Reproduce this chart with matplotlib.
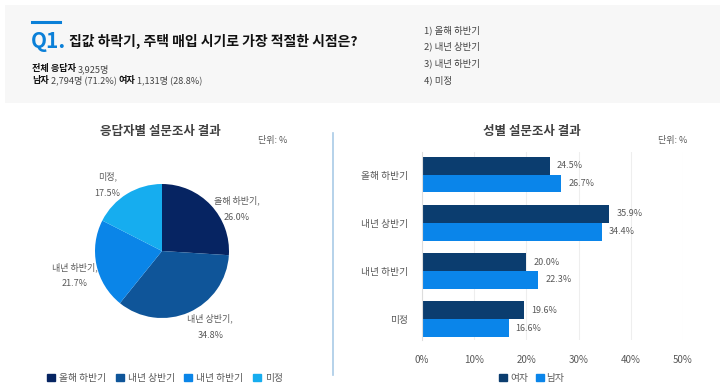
import matplotlib
matplotlib.use('Agg')
import matplotlib.pyplot as plt
from matplotlib.patches import Rectangle, Patch
from matplotlib.lines import Line2D

plt.rcParams['font.family'] = ['Noto Sans CJK KR', 'DejaVu Sans']

# 데이터
choices = ['올해 하반기', '내년 상반기', '내년 하반기', '미정']
total_share = [26.0, 34.8, 21.7, 17.5]
female_share = [24.5, 35.9, 20.0, 19.6]
male_share = [26.7, 34.4, 22.3, 16.6]
x_ticks = [0, 10, 20, 30, 40, 50]

pie_colors = ['#062462', '#0f5599', '#0a85e8', '#16adef']
female_color = '#0b3d6f'
male_color = '#0a85ea'
gray = '#595959'

W, H = 720, 392
fig = plt.figure(figsize=(7.2, 3.92), dpi=100)


def fx(x):
    return x / W


def fy(y):
    return 1 - y / H


def chain(x, y, parts, size):
    # 굵은 글씨/보통 글씨를 이어서 쓰기
    renderer = fig.canvas.get_renderer()
    for txt, bold, color in parts:
        t = fig.text(fx(x), fy(y), txt, fontsize=size, va='center', ha='left',
                     fontweight='bold' if bold else 'normal', color=color)
        bb = t.get_window_extent(renderer)
        x += bb.width + 2


# 상단 회색 패널
fig.patches.append(Rectangle((fx(5), fy(103)), fx(715), 98 / H, transform=fig.transFigure,
                             facecolor='#f7f7f7', edgecolor='none', zorder=0))
fig.lines.append(Line2D([fx(32), fx(60)], [fy(21.5), fy(21.5)], transform=fig.transFigure,
                        color='#0b80d8', linewidth=2.2))
fig.text(fx(31), fy(42), 'Q1.', fontsize=15, fontweight='bold', color='#0b80d8',
         va='center', ha='left')
fig.text(fx(69), fy(41), '집값 하락기, 주택 매입 시기로 가장 적절한 시점은?', fontsize=10,
         fontweight='bold', color='#111111', va='center', ha='left')
chain(32, 69, [('전체 응답자', True, '#111111'), ('3,925명', False, '#444444')], 6.6)
chain(32, 80, [('남자', True, '#111111'), ('2,794명 (71.2%)', False, '#444444'),
               ('여자', True, '#111111'), ('1,131명 (28.8%)', False, '#444444')], 6.6)
for i, c in enumerate(choices):
    fig.text(fx(424), fy(30 + i * 16.7), f'{i + 1}) {c}', fontsize=6.8, color='#444444',
             va='center', ha='left')

# 구분선
fig.lines.append(Line2D([fx(333), fx(333)], [fy(133), fy(375)], transform=fig.transFigure,
                        color='#a9cbe6', linewidth=1.2))

# 파이 차트
r = 67
ax1 = fig.add_axes([fx(162 - r), fy(251 + r), 2 * r / W, 2 * r / H])
wedges, _ = ax1.pie(total_share, colors=pie_colors, startangle=90, counterclock=False,
                    radius=1, wedgeprops=dict(linewidth=0))
ax1.set_xlim(-1, 1)
ax1.set_ylim(-1, 1)
ax1.set_aspect('equal')
label_pos = [(1.12, 0.63), (0.72, -1.13), (-1.30, -0.36), (-0.81, 0.99)]
for (lx, ly), c, v in zip(label_pos, choices, total_share):
    ax1.text(lx, ly, f'{c},\n{v:.1f}%', fontsize=6.5, color=gray, ha='center', va='center',
             linespacing=2.0, clip_on=False)
fig.text(fx(160), fy(131), '응답자별 설문조사 결과', fontsize=9, fontweight='bold',
         color='#404040', ha='center', va='center')
fig.text(fx(287), fy(141), '단위: %', fontsize=6.5, color=gray, ha='right', va='center')
fig.legend(handles=[Patch(color=col, label=c) for col, c in zip(pie_colors, choices)],
           loc='center', bbox_to_anchor=(fx(165), fy(378)), ncol=4, frameon=False,
           fontsize=7, labelcolor=gray, handlelength=0.8, handleheight=0.8,
           handletextpad=0.4, columnspacing=1.0)

# 막대 차트
ax2 = fig.add_axes([fx(422), fy(340), (683 - 422) / W, (340 - 152) / H])
bh = 0.37
ypos = list(range(len(choices)))
ax2.barh([y - bh / 2 for y in ypos], female_share, height=bh, color=female_color, label='여자')
ax2.barh([y + bh / 2 for y in ypos], male_share, height=bh, color=male_color, label='남자')
for y, f, m in zip(ypos, female_share, male_share):
    ax2.text(f + 1.3, y - bh / 2, f'{f:.1f}%', fontsize=6.5, color=gray, va='center')
    ax2.text(m + 1.3, y + bh / 2, f'{m:.1f}%', fontsize=6.5, color=gray, va='center')
ax2.set_xlim(0, 50)
ax2.set_ylim(3.43, -0.47)
ax2.set_xticks(x_ticks)
ax2.set_xticklabels([f'{t}%' for t in x_ticks], fontsize=7, color=gray)
ax2.set_yticks(ypos)
ax2.set_yticklabels(choices, fontsize=7, color=gray)
ax2.tick_params(length=0, pad=10)
ax2.tick_params(axis='x', pad=11)
ax2.grid(axis='x', color='#eeeeee', linewidth=0.8)
ax2.set_axisbelow(True)
for s in ['top', 'right', 'bottom']:
    ax2.spines[s].set_visible(False)
ax2.spines['left'].set_color('#dddddd')
fig.text(fx(532), fy(131), '성별 설문조사 결과', fontsize=9, fontweight='bold',
         color='#404040', ha='center', va='center')
fig.text(fx(687), fy(141), '단위: %', fontsize=6.5, color=gray, ha='right', va='center')
fig.legend(handles=[Patch(color=female_color, label='여자'), Patch(color=male_color, label='남자')],
           loc='center', bbox_to_anchor=(fx(532), fy(378)), ncol=2, frameon=False,
           fontsize=7, labelcolor=gray, handlelength=0.8, handleheight=0.8,
           handletextpad=0.3, columnspacing=0.8)

fig.savefig('out.png', dpi=100)
